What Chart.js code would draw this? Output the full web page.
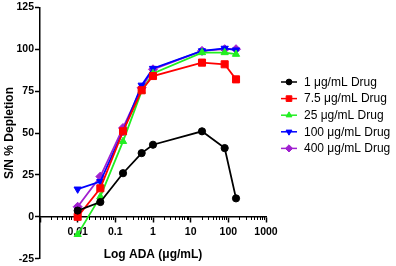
<!DOCTYPE html>
<html>
<head>
<meta charset="utf-8">
<script src="https://cdn.jsdelivr.net/npm/chart.js@4/dist/chart.umd.min.js"></script>
<style>
  html, body { margin: 0; padding: 0; background: #fff; }
  #wrap { width: 396px; height: 266px; }
</style>
</head>
<body>
<div id="wrap"><canvas id="c" width="396" height="266"></canvas></div>
<script>
const doses = [0.01, 0.04, 0.16, 0.5, 1, 20, 80, 160];
const drug1 = [3.7, 8.8, 26, 38, 43, 51, 41, 11];
const drug7_5 = [0, 17, 51, 75.5, 84, 92, 91, 82];
const drug25 = [-10.5, 12, 45, 75, 85.5, 98, 98, 97];
const drug100 = [16.5, 21, 51, 78.5, 88.5, 99, 100.5, 99.5];
const drug400 = [6, 24, 53, 77, 88, 99, 100, 100];
const seriesLabels = ["1 μg/mL Drug", "7.5 μg/mL Drug", "25 μg/mL Drug", "100 μg/mL Drug", "400 μg/mL Drug"];
const majorTicks = [0.001, 0.01, 0.1, 1, 10, 100, 1000];
const yTicks = [-25, 0, 25, 50, 75, 100, 125];

const FONT = "'Liberation Sans', Arial, sans-serif";

const pts = (ys) => doses.map((x, i) => ({ x: x, y: ys[i] }));

function series(label, ys, color, style, radius, rotation) {
  return {
    label: label,
    data: pts(ys),
    borderColor: color,
    backgroundColor: color,
    borderWidth: 1.8,
    pointStyle: style,
    pointRadius: radius,
    pointRotation: rotation || 0,
    pointBorderWidth: 1,
    pointBackgroundColor: color,
    pointBorderColor: color,
    tension: 0,
  };
}

// legend drawn by hand on the right, line + marker + text
const sideLegend = {
  id: "sideLegend",
  afterDraw(chart) {
    const ctx = chart.ctx;
    ctx.save();
    ctx.font = "12px " + FONT;
    ctx.textBaseline = "middle";
    chart.data.datasets.forEach((ds, i) => {
      const y = 82 + i * 16.6;
      ctx.strokeStyle = ds.borderColor;
      ctx.lineWidth = 1.5;
      ctx.beginPath();
      ctx.moveTo(281, y);
      ctx.lineTo(297, y);
      ctx.stroke();
      ctx.fillStyle = ds.pointBackgroundColor;
      ctx.strokeStyle = ds.pointBorderColor;
      ctx.lineWidth = 1;
      Chart.helpers.drawPoint(ctx, {
        pointStyle: ds.pointStyle,
        radius: ds.pointRadius * 0.8,
        rotation: ds.pointRotation,
        borderWidth: 1,
      }, 289, y);
      ctx.fillStyle = "#000";
      ctx.fillText(ds.label, 304, y + 0.5);
    });
    ctx.restore();
  },
};

new Chart(document.getElementById("c"), {
  type: "line",
  data: {
    datasets: [
      series(seriesLabels[0], drug1, "#000000", "circle", 3.6),
      series(seriesLabels[1], drug7_5, "#ff0000", "rect", 5),
      series(seriesLabels[2], drug25, "#22ee22", "triangle", 4.2),
      series(seriesLabels[3], drug100, "#0000ff", "triangle", 4.2, 180),
      series(seriesLabels[4], drug400, "#a020d0", "rectRot", 4.5),
    ],
  },
  options: {
    responsive: false,
    animation: false,
    layout: { padding: { top: 4, bottom: 3, right: 130, left: 0 } },
    plugins: { legend: { display: false }, tooltip: { enabled: false } },
    scales: {
      x: {
        type: "logarithmic",
        position: { y: 0 },
        min: 0.001,
        max: 1000,
        afterBuildTicks: (scale) => {
          scale.ticks = majorTicks.map((v) => ({ value: v }));
        },
        border: { color: "#000", width: 1.5 },
        grid: { drawOnChartArea: false, tickLength: 5, tickColor: "#000", tickWidth: 1.5 },
        ticks: {
          autoSkip: false,
          maxRotation: 0,
          padding: 4,
          color: "#000",
          font: { family: FONT, size: 10.5, weight: "bold" },
          callback: (v) => (v === 0.001 ? "" : String(v)),
        },
        title: {
          display: true,
          text: "Log ADA (μg/mL)",
          color: "#000",
          font: { family: FONT, size: 12, weight: "bold" },
          padding: { top: 5, bottom: 0 },
        },
      },
      xMinor: {
        type: "logarithmic",
        axis: "x",
        position: { y: 0 },
        min: 0.001,
        max: 1000,
        afterBuildTicks: (scale) => {
          const t = [];
          majorTicks.slice(0, -1).forEach((d) => {
            [2, 3, 4, 5, 6, 7, 8, 9].forEach((m) => t.push({ value: m * d }));
          });
          scale.ticks = t;
        },
        border: { display: false },
        grid: { drawOnChartArea: false, tickLength: 3, tickColor: "#000", tickWidth: 1 },
        ticks: { display: false, autoSkip: false },
      },
      y: {
        min: -25,
        max: 125,
        afterBuildTicks: (scale) => {
          scale.ticks = yTicks.map((v) => ({ value: v }));
        },
        afterFit: (scale) => {
          scale.width = 40;
        },
        border: { color: "#000", width: 1.5 },
        grid: { drawOnChartArea: false, tickLength: 5, tickColor: "#000", tickWidth: 1.5 },
        ticks: {
          padding: 1,
          color: "#000",
          font: { family: FONT, size: 10.5, weight: "bold" },
        },
        title: {
          display: true,
          text: "S/N % Depletion",
          color: "#000",
          font: { family: FONT, size: 12, weight: "bold" },
          padding: { top: 2, bottom: 0 },
        },
      },
    },
  },
  plugins: [sideLegend],
});
</script>
</body>
</html>
